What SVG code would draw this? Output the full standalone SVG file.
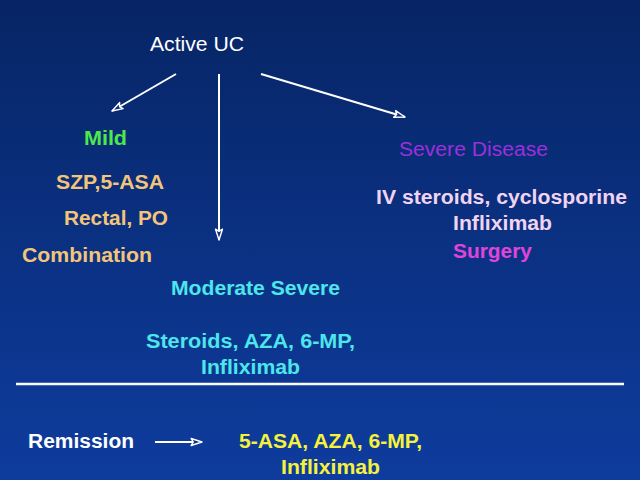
<svg xmlns="http://www.w3.org/2000/svg" width="640" height="480" viewBox="0 0 640 480">
<defs>
<linearGradient id="bg" x1="0" y1="0" x2="0" y2="1">
<stop offset="0" stop-color="#072565"/>
<stop offset="1" stop-color="#0e3c9e"/>
</linearGradient>
<marker id="ah" viewBox="0 0 12 10" refX="11" refY="5" markerWidth="6.5" markerHeight="5.5" orient="auto" markerUnits="strokeWidth">
<path d="M1,1.8 L11,5 L1,8.2 L3,5 Z" fill="#0b2f80" stroke="#ffffff" stroke-width="1.3" stroke-linejoin="round"/>
</marker>
<style>
text{font-family:"Liberation Sans",Arial,sans-serif;font-size:20px}
.b{font-weight:bold}
.w{fill:#ffffff}
.tan{fill:#f3c57a}
.cy{fill:#4de6ea}
.yl{fill:#f6f23c}
.pk{fill:#f0d4f2}
.c{stroke:#ffffff;stroke-width:2;fill:none}
</style>
</defs>
<rect width="640" height="480" fill="url(#bg)"/>
<g id="connectors">
<line class="c" x1="176" y1="74" x2="112" y2="111" marker-end="url(#ah)"/>
<line class="c" x1="219" y1="74" x2="219" y2="240" marker-end="url(#ah)"/>
<line class="c" x1="261" y1="74" x2="405" y2="117" marker-end="url(#ah)"/>
<line class="c" x1="155" y1="442" x2="202" y2="442" marker-end="url(#ah)"/>
<line x1="16" y1="384" x2="624" y2="384" stroke="#ffffff" stroke-width="2.5"/>
</g>
<g id="active"><text class="w" x="150" y="51" textLength="94" lengthAdjust="spacingAndGlyphs">Active UC</text></g>
<g id="mild">
<text class="b" x="84" y="145" fill="#4ce84c" textLength="43" lengthAdjust="spacingAndGlyphs">Mild</text>
<text class="b tan" x="56" y="189" textLength="108" lengthAdjust="spacingAndGlyphs">SZP,5-ASA</text>
<text class="b tan" x="64" y="225" textLength="104" lengthAdjust="spacingAndGlyphs">Rectal, PO</text>
<text class="b tan" x="22" y="262" textLength="130" lengthAdjust="spacingAndGlyphs">Combination</text>
</g>
<g id="moderate">
<text class="b cy" x="171" y="295" textLength="169" lengthAdjust="spacingAndGlyphs">Moderate Severe</text>
<text class="b cy" x="146" y="348" textLength="209" lengthAdjust="spacingAndGlyphs">Steroids,  AZA, 6-MP,</text>
<text class="b cy" x="201" y="374" textLength="99" lengthAdjust="spacingAndGlyphs">Infliximab</text>
</g>
<g id="severe">
<text x="399" y="156" fill="#9a30dc" textLength="149" lengthAdjust="spacingAndGlyphs">Severe Disease</text>
<text class="b pk" x="376" y="204" textLength="251" lengthAdjust="spacingAndGlyphs">IV steroids, cyclosporine</text>
<text class="b pk" x="453" y="230" textLength="99" lengthAdjust="spacingAndGlyphs">Infliximab</text>
<text class="b" x="453" y="258" fill="#e044dc" textLength="79" lengthAdjust="spacingAndGlyphs">Surgery</text>
</g>
<g id="remission">
<text class="b w" x="28" y="448" textLength="106" lengthAdjust="spacingAndGlyphs">Remission</text>
</g>
<g id="maintenance">
<text class="b yl" x="239" y="448" textLength="183" lengthAdjust="spacingAndGlyphs">5-ASA, AZA, 6-MP,</text>
<text class="b yl" x="281" y="474" textLength="99" lengthAdjust="spacingAndGlyphs">Infliximab</text>
</g>
</svg>
